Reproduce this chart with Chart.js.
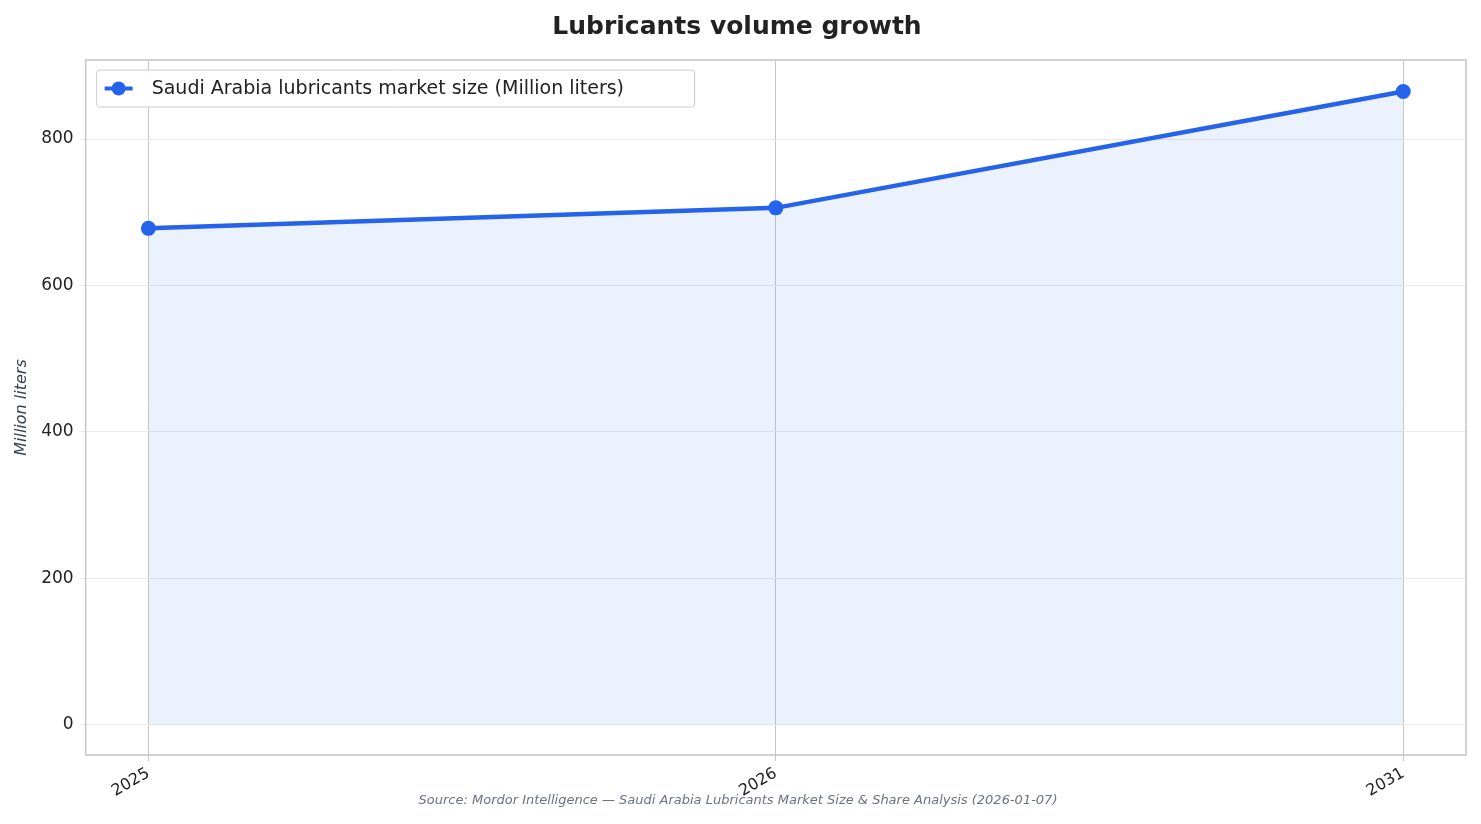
<!DOCTYPE html>
<html><head><meta charset="utf-8">
<script src="https://cdn.jsdelivr.net/npm/chart.js@4"></script>
<style>body{margin:0;background:#fff}#w{width:1481px;height:824px}</style>
</head><body><div id="w"><canvas id="c"></canvas></div>
<script>
const categories = ["2025","2026","2031"];
const values = [678, 706, 865];
const yTicks = [0,200,400,600,800];
const seriesName = "Saudi Arabia lubricants market size (Million liters)";
const F = "DejaVu Sans";

const frame = {
  id:'frame',
  afterDraw(ch){
    const {ctx, chartArea:a} = ch;
    ctx.save();
    ctx.strokeStyle='#c4c4c4'; ctx.lineWidth=1.5;
    ctx.strokeRect(a.left,a.top,a.right-a.left,a.bottom-a.top);
    // legend
    const x=a.left+11,y=a.top+10,w=598,h=37;
    ctx.fillStyle='rgba(255,255,255,0.9)'; ctx.strokeStyle='#cccccc'; ctx.lineWidth=1;
    ctx.beginPath(); ctx.roundRect(x,y,w,h,3); ctx.fill(); ctx.stroke();
    ctx.strokeStyle='#2563eb'; ctx.lineWidth=4;
    ctx.beginPath(); ctx.moveTo(x+8,y+h/2); ctx.lineTo(x+36,y+h/2); ctx.stroke();
    ctx.fillStyle='#2563eb'; ctx.beginPath(); ctx.arc(x+22,y+h/2,7,0,Math.PI*2); ctx.fill();
    ctx.fillStyle='#222'; ctx.font='19px '+F; ctx.textBaseline='middle';
    ctx.fillText(seriesName,x+55,y+h/2+1);
    // source
    ctx.font='italic 13px '+F; ctx.fillStyle='#6b7280'; ctx.textAlign='center';
    ctx.fillText("Source: Mordor Intelligence — Saudi Arabia Lubricants Market Size & Share Analysis (2026-01-07)", 738, 801);
    ctx.restore();
  }
};

new Chart(document.getElementById('c'),{
  type:'line',
  data:{datasets:[{
    data: values.map((v,i)=>({x:i,y:v})),
    borderColor:'#2563eb', borderWidth:4.5,
    backgroundColor:'rgba(37,99,235,0.09)', fill:'origin',
    pointRadius:7.5, pointBackgroundColor:'#2563eb', pointBorderWidth:0,
    tension:0
  }]},
  options:{
    responsive:true, maintainAspectRatio:false, animation:false,
    layout:{padding:{left:8,right:15,top:0,bottom:20}},
    plugins:{legend:{display:false}, tooltip:{enabled:false},
      title:{display:true,text:'Lubricants volume growth',color:'#222',
        font:{family:F,size:25,weight:'bold'},padding:{top:12,bottom:18}}},
    scales:{
      x:{type:'linear',min:-0.1,max:2.1,
        afterBuildTicks(s){s.ticks=categories.map((c,i)=>({value:i}));},
        ticks:{callback:(v)=>categories[v],color:'#222',font:{family:F,size:16},maxRotation:30,minRotation:30},
        grid:{color:'#c8c8c8',drawTicks:true,tickLength:6},border:{display:false}},
      y:{min:-41.6,max:908,
        afterBuildTicks(s){s.ticks=yTicks.map(v=>({value:v}));},
        ticks:{color:'#222',font:{family:F,size:17},padding:6},
        grid:{color:'#e8e8e8',tickLength:6},border:{display:false},
        title:{display:true,text:'Million liters',color:'#374151',font:{family:F,size:16,style:'italic'}}}
    }
  },
  plugins:[frame]
});
</script></body></html>
